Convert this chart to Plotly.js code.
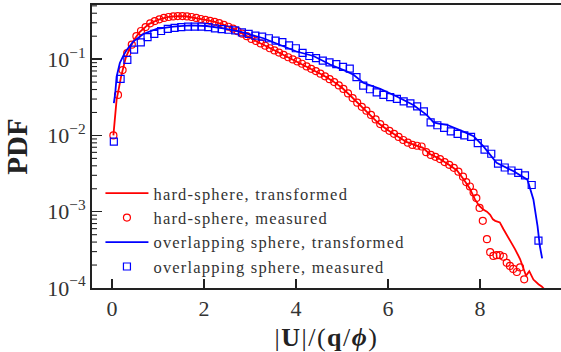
<!DOCTYPE html>
<html>
<head>
<meta charset="utf-8">
<script src="https://cdn.plot.ly/plotly-3.0.1.min.js"></script>
<style>
html,body{margin:0;padding:0;background:#fff;}
#chart{width:561px;height:352px;}
#chart .legendtext{letter-spacing:1.2px;}
#chart .legend .scrollbox{clip-path:none !important;}
#chart .g-xtitle text{letter-spacing:1.5px;}
</style>
</head>
<body>
<div id="chart"></div>
<script>
// hard-sphere, transformed (line)
const hsTransX = [0.03,0.06,0.1,0.15,0.2,0.3,0.4,0.5,0.6,0.8,1.0,1.2,1.4,1.6,1.8,2.0,2.2,2.4,2.6,2.8,3.0,3.2,3.4,3.6,3.8,4.0,4.2,4.4,4.6,4.8,5.0,5.2,5.4,5.6,5.8,6.0,6.2,6.4,6.6,6.75,6.9,7.1,7.3,7.5,7.65,7.78,7.89,7.98,8.07,8.15,8.22,8.28,8.33,8.43,8.51,8.58,8.65,8.76,8.87,8.94,9.0,9.07,9.16,9.27,9.34,9.42];
const hsTransY = [0.0100,0.0178,0.0295,0.0417,0.0603,0.105,0.145,0.186,0.226,0.288,0.328,0.355,0.366,0.365,0.350,0.330,0.313,0.287,0.257,0.221,0.188,0.164,0.143,0.124,0.108,0.0955,0.0822,0.0711,0.0610,0.0515,0.0422,0.0324,0.0245,0.0188,0.0143,0.0117,0.00977,0.00822,0.00741,0.00692,0.00575,0.00501,0.00422,0.00347,0.00263,0.00200,0.00145,0.00120,0.00107,0.00100,0.000912,0.000794,0.000759,0.000724,0.000589,0.000501,0.000417,0.000324,0.000240,0.000186,0.000145,0.000166,0.000129,0.000112,0.000105,0.0000933];

// hard-sphere, measured (circles)
const hsMeasX = [0.03,0.13,0.23,0.33,0.43,0.53,0.63,0.73,0.83,0.93,1.03,1.13,1.23,1.33,1.43,1.53,1.63,1.73,1.83,1.93,2.03,2.13,2.23,2.33,2.43,2.53,2.63,2.73,2.83,2.93,3.03,3.13,3.23,3.33,3.43,3.53,3.63,3.73,3.83,3.93,4.03,4.13,4.23,4.33,4.43,4.53,4.63,4.73,4.83,4.93,5.03,5.13,5.23,5.33,5.43,5.53,5.63,5.73,5.83,5.93,6.03,6.13,6.23,6.33,6.43,6.53,6.63,6.73,6.83,6.93,7.03,7.13,7.23,7.33,7.43,7.53,7.63,7.70,7.78,7.86,7.92,7.99,8.06,8.15,8.22,8.29,8.36,8.43,8.51,8.58,8.65,8.72,8.80,8.87,8.96];
const hsMeasY = [0.0100,0.034,0.072,0.120,0.155,0.200,0.234,0.263,0.295,0.316,0.333,0.347,0.357,0.363,0.367,0.367,0.363,0.357,0.347,0.336,0.327,0.318,0.309,0.297,0.282,0.266,0.251,0.233,0.216,0.200,0.184,0.173,0.161,0.150,0.139,0.130,0.122,0.114,0.106,0.0993,0.0933,0.0871,0.0804,0.0746,0.0697,0.0646,0.0596,0.0547,0.0501,0.0452,0.0407,0.0355,0.0309,0.0269,0.0237,0.0211,0.0186,0.0162,0.0141,0.0126,0.0115,0.0105,0.00955,0.00871,0.00804,0.0075,0.00733,0.00716,0.00603,0.00556,0.00525,0.0049,0.00447,0.00412,0.00376,0.00335,0.00288,0.00245,0.00214,0.00178,0.00151,0.00112,0.00076,0.000437,0.000295,0.000263,0.000269,0.000269,0.000257,0.000214,0.000195,0.000178,0.000162,0.000186,0.000130];

// overlapping sphere, transformed (line)
const osTransX = [0.04,0.07,0.10,0.14,0.17,0.25,0.32,0.46,0.68,0.97,1.33,1.7,2.06,2.42,2.78,3.29,3.65,4.01,4.38,4.74,5.1,5.25,5.46,5.83,6.19,6.55,6.84,6.99,7.1,7.28,7.64,7.86,8.07,8.36,8.73,9.03,9.16,9.25,9.3,9.35];
const osTransY = [0.0266,0.0355,0.0589,0.0759,0.0891,0.112,0.132,0.170,0.214,0.249,0.267,0.278,0.272,0.254,0.229,0.188,0.154,0.126,0.110,0.0851,0.0692,0.0624,0.0490,0.0407,0.0324,0.0251,0.0186,0.0148,0.0143,0.0138,0.0112,0.00977,0.00724,0.00437,0.00339,0.00263,0.00145,0.000646,0.000355,0.000245];

// overlapping sphere, measured (squares)
const osMeasX = [0.04,0.187,0.333,0.48,0.626,0.773,0.919,1.066,1.212,1.359,1.505,1.652,1.798,1.945,2.091,2.238,2.384,2.531,2.677,2.824,2.97,3.117,3.263,3.41,3.556,3.703,3.849,3.996,4.142,4.289,4.435,4.582,4.728,4.875,5.021,5.168,5.314,5.461,5.607,5.754,5.9,6.047,6.193,6.34,6.486,6.633,6.779,6.926,7.072,7.219,7.365,7.512,7.658,7.805,7.951,8.098,8.244,8.391,8.537,8.684,8.83,8.977,9.123,9.27];
const osMeasY = [0.00832,0.0550,0.0977,0.133,0.166,0.194,0.214,0.234,0.249,0.257,0.263,0.267,0.267,0.267,0.263,0.254,0.247,0.243,0.239,0.225,0.214,0.204,0.197,0.188,0.175,0.167,0.152,0.139,0.121,0.110,0.103,0.0959,0.0908,0.0861,0.0794,0.0750,0.0582,0.0450,0.0403,0.0366,0.0341,0.0318,0.0302,0.0279,0.0263,0.0240,0.0207,0.0148,0.0136,0.0126,0.0113,0.0105,0.0100,0.00955,0.00794,0.00652,0.00575,0.00427,0.00380,0.00347,0.00324,0.00299,0.00224,0.000417];

const seriesNames = ['hard-sphere, transformed','hard-sphere, measured','overlapping sphere, transformed','overlapping sphere, measured'];
const xTickVals = [0,2,4,6,8];
const yTickVals = [1e-4,1e-3,1e-2,1e-1];
const yTickText = ['10<sup>−4</sup>','10<sup>−3</sup>','10<sup>−2</sup>','10<sup>−1</sup>'];
const yLogRange = [-4, -0.29];

// minor tick positions (2..9 within each decade, inside the visible range)
const yMinorVals = [];
for (const d of yTickVals) { for (let m = 2; m <= 9; m++) { const v = m * d; if (Math.log10(v) < yLogRange[1]) yMinorVals.push(v); } }

const RED = '#ff0000', BLUE = '#0000ff';
const traces = [
  {x: hsTransX, y: hsTransY, name: seriesNames[0], mode: 'lines', line: {color: RED, width: 1.8}},
  {x: hsMeasX, y: hsMeasY, name: seriesNames[1], mode: 'markers', marker: {symbol: 'circle-open', color: RED, size: 7, line: {width: 1.2}}},
  {x: osTransX, y: osTransY, name: seriesNames[2], mode: 'lines', line: {color: BLUE, width: 1.8}},
  {x: osMeasX, y: osMeasY, name: seriesNames[3], mode: 'markers', marker: {symbol: 'square-open', color: BLUE, size: 7, line: {width: 1.2}}}
];

// minor tick marks on the left spine, positioned as a fraction of the y-axis domain
const minorShapes = yMinorVals.map(v => {
  const f = (Math.log10(v) - yLogRange[0]) / (yLogRange[1] - yLogRange[0]);
  return {type: 'line', xref: 'paper', yref: 'paper', x0: 0, x1: 5 / 469, y0: f, y1: f,
          line: {color: '#222', width: 1.1}, layer: 'above'};
});

const FONT = 'Liberation Serif, DejaVu Serif, serif';
const layout = {
  width: 561, height: 352,
  margin: {l: 92, r: 0, t: 5, b: 64},
  paper_bgcolor: '#fff', plot_bgcolor: '#fff',
  font: {family: FONT, color: '#333'},
  showlegend: true,
  legend: {
    x: 0.018, y: 0.396, xanchor: 'left', yanchor: 'top',
    bgcolor: 'rgba(0,0,0,0)', borderwidth: 0,
    itemwidth: 43,
    font: {family: FONT, size: 16.5, color: '#333'},
    tracegroupgap: 0
  },
  shapes: minorShapes,
  xaxis: {
    range: [-0.435, 9.76],
    tickvals: xTickVals,
    ticktext: xTickVals.map(String),
    ticks: 'inside', ticklen: 9, tickwidth: 1.5, tickcolor: '#222',
    showline: true, linewidth: 2, linecolor: '#222', mirror: true,
    showgrid: false, zeroline: false,
    tickfont: {family: FONT, size: 22, color: '#333'},
    title: {text: '|<b>U</b>|/(<b>q</b>/<b><i>ϕ</i></b>)', font: {family: FONT, size: 26, color: '#222'}, standoff: 10}
  },
  yaxis: {
    type: 'log',
    range: yLogRange,
    tickmode: 'array',
    tickvals: yTickVals,
    ticktext: yTickText,
    ticks: 'inside', ticklen: 10, tickwidth: 1.5, tickcolor: '#222',
    showline: true, linewidth: 2, linecolor: '#222', mirror: false,
    showgrid: false, zeroline: false,
    tickfont: {family: FONT, size: 22, color: '#333'},
    title: {text: '<b>PDF</b>', font: {family: FONT, size: 29, color: '#222'}, standoff: 11}
  }
};

Plotly.newPlot('chart', traces, layout, {staticPlot: true, displayModeBar: false});
</script>
</body>
</html>
